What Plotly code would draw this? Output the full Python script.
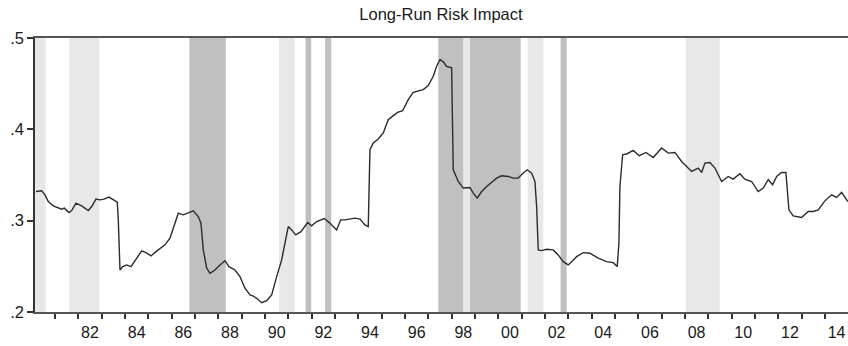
import plotly.graph_objects as go

# Series (decimal year, value)
years = [1980.186, 1980.43, 1980.57, 1980.713, 1980.927, 1981.141, 1981.287, 1981.399, 1981.60, 1981.716,
         1981.90, 1982.144, 1982.427, 1982.573, 1982.757, 1982.929, 1983.10, 1983.314, 1983.499, 1983.67,
         1983.713, 1983.786, 1983.902, 1984.073, 1984.257, 1984.501, 1984.716, 1984.90, 1985.114, 1985.329,
         1985.50, 1985.714, 1985.929, 1986.113, 1986.284, 1986.499, 1986.713, 1986.927, 1987.141, 1987.257,
         1987.356, 1987.502, 1987.643, 1987.857, 1988.071, 1988.286, 1988.457, 1988.714, 1988.929, 1989.143,
         1989.357, 1989.499, 1989.644, 1989.859, 1990.073, 1990.287, 1990.501, 1990.716, 1990.857, 1990.999,
         1991.144, 1991.316, 1991.543, 1991.83, 1992.0, 1992.216, 1992.541, 1992.756, 1993.073, 1993.244,
         1993.429, 1993.643, 1993.857, 1994.071, 1994.286, 1994.427, 1994.457, 1994.50, 1994.642, 1994.856,
         1995.07, 1995.284, 1995.499, 1995.687, 1995.901, 1996.141, 1996.356, 1996.57, 1996.784, 1996.999,
         1997.213, 1997.359, 1997.50, 1997.641, 1997.787, 1998.001, 1998.044, 1998.07, 1998.284, 1998.499,
         1998.786, 1998.927, 1999.099, 1999.287, 1999.501, 1999.716, 1999.93, 2000.144, 2000.427, 2000.641,
         2000.856, 2001.07, 2001.241, 2001.43, 2001.571, 2001.644, 2001.713, 2001.859, 2002.073, 2002.356,
         2002.57, 2002.784, 2002.999, 2003.144, 2003.359, 2003.642, 2003.929, 2004.284, 2004.644, 2004.927,
         2005.098, 2005.171, 2005.214, 2005.33, 2005.527, 2005.784, 2006.041, 2006.329, 2006.641, 2007.001,
         2007.284, 2007.571, 2007.859, 2008.287, 2008.57, 2008.716, 2008.857, 2009.071, 2009.286, 2009.573,
         2009.856, 2010.07, 2010.356, 2010.571, 2010.859, 2011.141, 2011.356, 2011.57, 2011.759, 2011.931,
         2012.144, 2012.329, 2012.384, 2012.457, 2012.641, 2013.001, 2013.284, 2013.499, 2013.713, 2014.0,
         2014.287, 2014.501, 2014.716, 2014.93, 2014.986]
values = [0.3319, 0.3327, 0.3283, 0.3210, 0.3162, 0.3137, 0.3126, 0.3137, 0.3089, 0.3111,
          0.3192, 0.3162, 0.3111, 0.3155, 0.3236, 0.3228, 0.3236, 0.3258, 0.3228, 0.3203,
          0.3009, 0.2460, 0.2497, 0.2515, 0.2497, 0.2589, 0.2669, 0.2650, 0.2614, 0.2661,
          0.2698, 0.2735, 0.2808, 0.2954, 0.3082, 0.3064, 0.3089, 0.3108, 0.3045, 0.2973,
          0.2680, 0.2479, 0.2424, 0.2460, 0.2515, 0.2562, 0.2497, 0.2460, 0.2387, 0.2260,
          0.2186, 0.2175, 0.2150, 0.2102, 0.2124, 0.2186, 0.2387, 0.2570, 0.2753, 0.2935,
          0.2899, 0.2844, 0.2880, 0.2979, 0.2943, 0.2990, 0.3023, 0.2979, 0.2899, 0.3009,
          0.3009, 0.3017, 0.3028, 0.3017, 0.2954, 0.2935, 0.3338, 0.3777, 0.3850, 0.3894,
          0.3960, 0.4106, 0.4150, 0.4186, 0.4204, 0.4325, 0.4405, 0.4416, 0.4435, 0.4479,
          0.4581, 0.4690, 0.4764, 0.4739, 0.4690, 0.4673, 0.4106, 0.3557, 0.3429, 0.3357,
          0.3363, 0.3302, 0.3247, 0.3319, 0.3374, 0.3418, 0.3466, 0.3491, 0.3484, 0.3466,
          0.3466, 0.3521, 0.3557, 0.3521, 0.3429, 0.3155, 0.2680, 0.2672, 0.2687, 0.2680,
          0.2625, 0.2551, 0.2515, 0.2551, 0.2606, 0.2650, 0.2644, 0.2589, 0.2551, 0.2540,
          0.2497, 0.2753, 0.3374, 0.3722, 0.3733, 0.3769, 0.3711, 0.3747, 0.3692, 0.3795,
          0.3740, 0.3747, 0.3648, 0.3539, 0.3576, 0.3528, 0.3631, 0.3637, 0.3576, 0.3429,
          0.3484, 0.3455, 0.3513, 0.3455, 0.3429, 0.3319, 0.3357, 0.3448, 0.3393, 0.3484,
          0.3528, 0.3528, 0.3302, 0.3119, 0.3053, 0.3034, 0.3100, 0.3100, 0.3119, 0.3217,
          0.3283, 0.3254, 0.3309, 0.3228, 0.3210]

# Shaded periods (start, end) in decimal years
light_bands = [(1980.15, 1980.60), (1981.61, 1982.90), (1990.60, 1991.28),
               (1998.50, 1998.79), (2001.26, 2001.93), (2008.03, 2009.49)]
dark_bands = [(1986.76, 1988.32), (1991.74, 1991.98), (1992.58, 1992.84),
              (1997.43, 1998.50), (1998.79, 2000.96), (2002.67, 2002.93)]

y_ticks = [0.2, 0.3, 0.4, 0.5]
y_labels = [".2", ".3", ".4", ".5"]
label_years = list(range(1982, 2015, 2))
x_labels = [str(y)[2:] for y in label_years]
minor_years = list(range(1981, 2015))

shapes = []
for a, b in light_bands:
    shapes.append(dict(type="rect", xref="x", yref="paper", x0=a, x1=b, y0=0, y1=1,
                       fillcolor="#e8e8e8", line=dict(width=0), layer="below"))
for a, b in dark_bands:
    shapes.append(dict(type="rect", xref="x", yref="paper", x0=a, x1=b, y0=0, y1=1,
                       fillcolor="#c0c0c0", line=dict(width=0), layer="below"))

fig = go.Figure()
fig.add_trace(go.Scatter(x=years, y=values, mode="lines",
                         line=dict(color="#2b2b2b", width=1.4), hoverinfo="skip"))

font = "Arial, Liberation Sans, sans-serif"
fig.update_layout(
    width=848, height=346,
    margin=dict(l=35, r=0, t=38, b=34),
    paper_bgcolor="white", plot_bgcolor="white",
    showlegend=False,
    shapes=shapes,
    title=dict(text="Long-Run Risk Impact", x=0.52, xanchor="center", y=0.958, yanchor="middle",
               font=dict(family=font, size=16.5, color="#1a1a1a")),
    xaxis=dict(range=[1980.143, 2014.99], showgrid=False, zeroline=False,
               showline=True, linecolor="#555555", linewidth=1.5, mirror=True,
               tickmode="array", tickvals=[y + 0.5 for y in label_years], ticktext=x_labels,
               ticks="outside", ticklen=5, tickcolor="rgba(0,0,0,0)",
               tickfont=dict(family=font, size=16, color="#1a1a1a"),
               minor=dict(tickmode="array", tickvals=minor_years, ticks="outside",
                          ticklen=5, tickwidth=1.5, tickcolor="#333333", showgrid=False)),
    yaxis=dict(range=[0.2, 0.5], showgrid=False, zeroline=False,
               showline=True, linecolor="#333333", linewidth=1.5,
               tickmode="array", tickvals=y_ticks, ticktext=y_labels,
               ticks="outside", ticklen=6, tickwidth=1.5, tickcolor="#333333",
               tickfont=dict(family=font, size=16.5, color="#1a1a1a")),
)

fig.write_html("out.html")
